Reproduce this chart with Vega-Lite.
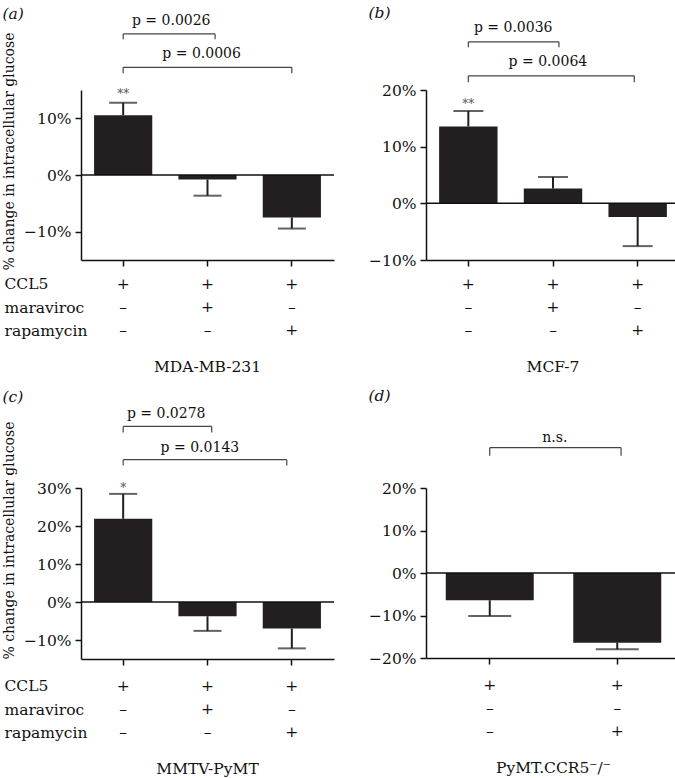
{
  "$schema": "https://vega.github.io/schema/vega-lite/v6.json",
  "padding": {"left": 2, "top": 6, "right": 0, "bottom": 0},
  "config": {
    "font": "DejaVu Serif",
    "view": {"stroke": null},
    "axis": {"labelFont": "DejaVu Serif", "titleFont": "DejaVu Serif", "domainColor": "#111", "tickColor": "#111", "labelColor": "#111", "titleColor": "#111", "labelFontSize": 15.5, "titleFontSize": 14, "titleFontWeight": "normal", "tickSize": 6, "domainWidth": 1.5, "tickWidth": 1.5, "grid": false, "labelPadding": 4},
    "title": {"font": "DejaVu Serif", "fontSize": 15.5, "fontWeight": "normal", "color": "#111"},
    "text": {"font": "DejaVu Serif"}
  },
  "datasets": {
    "bars": [
      {"panel": "a", "cond": "1", "value": 10.55, "err": 12.75, "sig": "**"},
      {"panel": "a", "cond": "2", "value": -0.8, "err": -3.65, "sig": ""},
      {"panel": "a", "cond": "3", "value": -7.5, "err": -9.45, "sig": ""},
      {"panel": "b", "cond": "1", "value": 13.55, "err": 16.3, "sig": "**"},
      {"panel": "b", "cond": "2", "value": 2.6, "err": 4.65, "sig": ""},
      {"panel": "b", "cond": "3", "value": -2.4, "err": -7.55, "sig": ""},
      {"panel": "c", "cond": "1", "value": 21.9, "err": 28.45, "sig": "*"},
      {"panel": "c", "cond": "2", "value": -3.75, "err": -7.6, "sig": ""},
      {"panel": "c", "cond": "3", "value": -7.0, "err": -12.2, "sig": ""},
      {"panel": "d", "cond": "1", "value": -6.4, "err": -10.1, "sig": ""},
      {"panel": "d", "cond": "2", "value": -16.4, "err": -17.95, "sig": ""}
    ],
    "brackets": [
      {"panel": "a", "from": 0, "to": 1.09, "level": 24.9, "low": 23.95, "mid": 0.57, "label": "p = 0.0026"},
      {"panel": "a", "from": 0, "to": 2, "level": 19.0, "low": 17.95, "mid": 0.93, "label": "p = 0.0006"},
      {"panel": "b", "from": 0, "to": 1.07, "level": 28.5, "low": 27.55, "mid": 0.53, "label": "p = 0.0036"},
      {"panel": "b", "from": 0, "to": 1.96, "level": 22.5, "low": 21.35, "mid": 0.94, "label": "p = 0.0064"},
      {"panel": "c", "from": 0, "to": 1.05, "level": 46.2, "low": 44.6, "mid": 0.51, "label": "p = 0.0278"},
      {"panel": "c", "from": 0, "to": 1.94, "level": 37.45, "low": 35.9, "mid": 0.91, "label": "p = 0.0143"},
      {"panel": "d", "from": 0, "to": 1.03, "level": 29.5, "low": 27.6, "mid": 0.51, "label": "n.s."}
    ],
    "table": [
      {"panel": "a", "cond": "1", "row": "CCL5", "sign": "+"},
      {"panel": "a", "cond": "1", "row": "maraviroc", "sign": "–"},
      {"panel": "a", "cond": "1", "row": "rapamycin", "sign": "–"},
      {"panel": "a", "cond": "2", "row": "CCL5", "sign": "+"},
      {"panel": "a", "cond": "2", "row": "maraviroc", "sign": "+"},
      {"panel": "a", "cond": "2", "row": "rapamycin", "sign": "–"},
      {"panel": "a", "cond": "3", "row": "CCL5", "sign": "+"},
      {"panel": "a", "cond": "3", "row": "maraviroc", "sign": "–"},
      {"panel": "a", "cond": "3", "row": "rapamycin", "sign": "+"},
      {"panel": "b", "cond": "1", "row": "CCL5", "sign": "+"},
      {"panel": "b", "cond": "1", "row": "maraviroc", "sign": "–"},
      {"panel": "b", "cond": "1", "row": "rapamycin", "sign": "–"},
      {"panel": "b", "cond": "2", "row": "CCL5", "sign": "+"},
      {"panel": "b", "cond": "2", "row": "maraviroc", "sign": "+"},
      {"panel": "b", "cond": "2", "row": "rapamycin", "sign": "–"},
      {"panel": "b", "cond": "3", "row": "CCL5", "sign": "+"},
      {"panel": "b", "cond": "3", "row": "maraviroc", "sign": "–"},
      {"panel": "b", "cond": "3", "row": "rapamycin", "sign": "+"},
      {"panel": "c", "cond": "1", "row": "CCL5", "sign": "+"},
      {"panel": "c", "cond": "1", "row": "maraviroc", "sign": "–"},
      {"panel": "c", "cond": "1", "row": "rapamycin", "sign": "–"},
      {"panel": "c", "cond": "2", "row": "CCL5", "sign": "+"},
      {"panel": "c", "cond": "2", "row": "maraviroc", "sign": "+"},
      {"panel": "c", "cond": "2", "row": "rapamycin", "sign": "–"},
      {"panel": "c", "cond": "3", "row": "CCL5", "sign": "+"},
      {"panel": "c", "cond": "3", "row": "maraviroc", "sign": "–"},
      {"panel": "c", "cond": "3", "row": "rapamycin", "sign": "+"},
      {"panel": "d", "cond": "1", "row": "CCL5", "sign": "+"},
      {"panel": "d", "cond": "1", "row": "maraviroc", "sign": "–"},
      {"panel": "d", "cond": "1", "row": "rapamycin", "sign": "–"},
      {"panel": "d", "cond": "2", "row": "CCL5", "sign": "+"},
      {"panel": "d", "cond": "2", "row": "maraviroc", "sign": "–"},
      {"panel": "d", "cond": "2", "row": "rapamycin", "sign": "+"}
    ]
  },
  "spacing": 13,
  "vconcat": [
    {
      "spacing": 33,
      "hconcat": [
        {
          "spacing": 9, "bounds": "flush",
          "vconcat": [
            {
              "width": 253, "height": 170,
              "title": {"text": "(a)", "anchor": "start", "frame": "bounds", "offset": -9, "fontStyle": "italic"},
              "resolve": {"scale": {"x": "independent"}},
              "layer": [
                {
                  "data": {"name": "bars"},
                  "transform": [{"filter": "datum.panel == 'a'"}],
                  "layer": [
                    {"mark": {"type": "bar", "color": "#231f20"},
                     "encoding": {
                       "x": {"field": "cond", "type": "nominal", "title": null, "scale": {"domain": ["1", "2", "3"], "paddingInner": 0.31, "paddingOuter": 0.155}, "axis": {"title": null, "labels": false}},
                       "y": {"field": "value", "type": "quantitative", "title": "% change in intracellular glucose", "scale": {"domain": [-15, 15], "nice": false, "zero": false},
                             "axis": {"title": "% change in intracellular glucose", "values": [-10, 0, 10], "labelExpr": "(datum.value < 0 ? '−' + abs(datum.value) : datum.value) + '%'", "titlePadding": 7, "titleY": 61, "titleAlign": "center"}}
                     }},
                    {"mark": {"type": "rule", "strokeWidth": 2, "color": "#231f20"},
                     "encoding": {"x": {"field": "cond", "type": "nominal", "title": null}, "y": {"field": "value", "type": "quantitative", "title": "% change in intracellular glucose"}, "y2": {"field": "err"}}},
                    {"mark": {"type": "tick", "size": 28, "thickness": 2, "color": "#231f20"},
                     "encoding": {"x": {"field": "cond", "type": "nominal", "title": null}, "y": {"field": "err", "type": "quantitative", "title": "% change in intracellular glucose"}}},
                    {"mark": {"type": "text", "dy": -9, "fontSize": 12, "color": "#555"},
                     "encoding": {"x": {"field": "cond", "type": "nominal", "title": null}, "y": {"field": "err", "type": "quantitative", "title": "% change in intracellular glucose"}, "text": {"field": "sig"}}},
                    {"data": {"values": [{}]}, "mark": {"type": "rule", "strokeWidth": 1.5, "color": "#111"},
                     "encoding": {"y": {"datum": 0, "type": "quantitative", "title": "% change in intracellular glucose"}}}
                  ]
                },
                {
                  "data": {"name": "brackets"},
                  "transform": [{"filter": "datum.panel == 'a'"}],
                  "layer": [
                    {"mark": {"type": "rule", "strokeWidth": 1.2, "color": "#444"},
                     "encoding": {"x": {"field": "from", "type": "quantitative", "scale": {"domain": [-0.5, 2.5], "nice": false, "zero": false}, "axis": null}, "x2": {"field": "to"}, "y": {"field": "level", "type": "quantitative", "title": "% change in intracellular glucose"}}},
                    {"mark": {"type": "rule", "strokeWidth": 1.2, "color": "#444"},
                     "encoding": {"x": {"field": "from", "type": "quantitative", "axis": null}, "y": {"field": "level", "type": "quantitative", "title": "% change in intracellular glucose"}, "y2": {"field": "low"}}},
                    {"mark": {"type": "rule", "strokeWidth": 1.2, "color": "#444"},
                     "encoding": {"x": {"field": "to", "type": "quantitative", "axis": null}, "y": {"field": "level", "type": "quantitative", "title": "% change in intracellular glucose"}, "y2": {"field": "low"}}},
                    {"mark": {"type": "text", "dy": -9, "fontSize": 14, "baseline": "alphabetic", "color": "#111"},
                     "encoding": {"x": {"field": "mid", "type": "quantitative", "axis": null}, "y": {"field": "level", "type": "quantitative", "title": "% change in intracellular glucose"}, "text": {"field": "label"}}}
                  ]
                }
              ]
            },
            {
              "width": 253, "height": 76,
              "data": {"name": "table"},
              "transform": [{"filter": "datum.panel == 'a'"}],
              "title": {"text": "MDA-MB-231", "orient": "bottom", "frame": "group", "anchor": "middle", "offset": 15},
              "mark": {"type": "text", "fontSize": 15.5, "color": "#111", "font": "DejaVu Serif"},
              "encoding": {
                "x": {"field": "cond", "type": "nominal", "scale": {"domain": ["1", "2", "3"]}, "axis": null},
                "y": {"field": "row", "type": "nominal", "scale": {"type": "point", "domain": ["CCL5", "maraviroc", "rapamycin"], "padding": 0.65},
                      "axis": {"title": null, "domain": false, "ticks": false, "tickSize": 0, "labelAlign": "left", "labelPadding": 77}},
                "text": {"field": "sign"}
              }
            }
          ]
        },
        {
          "spacing": 9, "bounds": "flush",
          "vconcat": [
            {
              "width": 254, "height": 170,
              "title": {"text": "(b)", "anchor": "start", "frame": "bounds", "offset": -1, "fontStyle": "italic"},
              "resolve": {"scale": {"x": "independent"}},
              "layer": [
                {
                  "data": {"name": "bars"},
                  "transform": [{"filter": "datum.panel == 'b'"}],
                  "layer": [
                    {"mark": {"type": "bar", "color": "#231f20"},
                     "encoding": {
                       "x": {"field": "cond", "type": "nominal", "title": null, "scale": {"domain": ["1", "2", "3"], "paddingInner": 0.31, "paddingOuter": 0.155}, "axis": {"title": null, "labels": false}},
                       "y": {"field": "value", "type": "quantitative", "title": null, "scale": {"domain": [-10, 20], "nice": false, "zero": false},
                             "axis": {"title": null, "values": [-10, 0, 10, 20], "labelExpr": "(datum.value < 0 ? '−' + abs(datum.value) : datum.value) + '%'"}}
                     }},
                    {"mark": {"type": "rule", "strokeWidth": 2, "color": "#231f20"},
                     "encoding": {"x": {"field": "cond", "type": "nominal", "title": null}, "y": {"field": "value", "type": "quantitative", "title": null}, "y2": {"field": "err"}}},
                    {"mark": {"type": "tick", "size": 30, "thickness": 2, "color": "#231f20"},
                     "encoding": {"x": {"field": "cond", "type": "nominal", "title": null}, "y": {"field": "err", "type": "quantitative", "title": null}}},
                    {"mark": {"type": "text", "dy": -7, "fontSize": 12, "color": "#555"},
                     "encoding": {"x": {"field": "cond", "type": "nominal", "title": null}, "y": {"field": "err", "type": "quantitative", "title": null}, "text": {"field": "sig"}}},
                    {"data": {"values": [{}]}, "mark": {"type": "rule", "strokeWidth": 1.5, "color": "#111"},
                     "encoding": {"y": {"datum": 0, "type": "quantitative", "title": null}}}
                  ]
                },
                {
                  "data": {"name": "brackets"},
                  "transform": [{"filter": "datum.panel == 'b'"}],
                  "layer": [
                    {"mark": {"type": "rule", "strokeWidth": 1.2, "color": "#444"},
                     "encoding": {"x": {"field": "from", "type": "quantitative", "scale": {"domain": [-0.5, 2.5], "nice": false, "zero": false}, "axis": null}, "x2": {"field": "to"}, "y": {"field": "level", "type": "quantitative", "title": null}}},
                    {"mark": {"type": "rule", "strokeWidth": 1.2, "color": "#444"},
                     "encoding": {"x": {"field": "from", "type": "quantitative", "axis": null}, "y": {"field": "level", "type": "quantitative", "title": null}, "y2": {"field": "low"}}},
                    {"mark": {"type": "rule", "strokeWidth": 1.2, "color": "#444"},
                     "encoding": {"x": {"field": "to", "type": "quantitative", "axis": null}, "y": {"field": "level", "type": "quantitative", "title": null}, "y2": {"field": "low"}}},
                    {"mark": {"type": "text", "dy": -10, "fontSize": 14, "baseline": "alphabetic", "color": "#111"},
                     "encoding": {"x": {"field": "mid", "type": "quantitative", "axis": null}, "y": {"field": "level", "type": "quantitative", "title": null}, "text": {"field": "label"}}}
                  ]
                }
              ]
            },
            {
              "width": 254, "height": 76,
              "data": {"name": "table"},
              "transform": [{"filter": "datum.panel == 'b'"}],
              "title": {"text": "MCF-7", "orient": "bottom", "frame": "group", "anchor": "middle", "offset": 15},
              "mark": {"type": "text", "fontSize": 15.5, "color": "#111", "font": "DejaVu Serif"},
              "encoding": {
                "x": {"field": "cond", "type": "nominal", "scale": {"domain": ["1", "2", "3"]}, "axis": null},
                "y": {"field": "row", "type": "nominal", "scale": {"type": "point", "domain": ["CCL5", "maraviroc", "rapamycin"], "padding": 0.65}, "axis": null},
                "text": {"field": "sign"}
              }
            }
          ]
        }
      ]
    },
    {
      "spacing": 33,
      "hconcat": [
        {
          "spacing": 12, "bounds": "flush",
          "vconcat": [
            {
              "width": 253, "height": 171,
              "title": {"text": "(c)", "anchor": "start", "frame": "bounds", "offset": 2, "fontStyle": "italic"},
              "resolve": {"scale": {"x": "independent"}},
              "layer": [
                {
                  "data": {"name": "bars"},
                  "transform": [{"filter": "datum.panel == 'c'"}],
                  "layer": [
                    {"mark": {"type": "bar", "color": "#231f20"},
                     "encoding": {
                       "x": {"field": "cond", "type": "nominal", "title": null, "scale": {"domain": ["1", "2", "3"], "paddingInner": 0.31, "paddingOuter": 0.155}, "axis": {"title": null, "labels": false}},
                       "y": {"field": "value", "type": "quantitative", "title": "% change in intracellular glucose", "scale": {"domain": [-15, 30], "nice": false, "zero": false},
                             "axis": {"title": "% change in intracellular glucose", "values": [-10, 0, 10, 20, 30], "labelExpr": "(datum.value < 0 ? '−' + abs(datum.value) : datum.value) + '%'", "titlePadding": 7, "titleY": 52, "titleAlign": "center"}}
                     }},
                    {"mark": {"type": "rule", "strokeWidth": 2, "color": "#231f20"},
                     "encoding": {"x": {"field": "cond", "type": "nominal", "title": null}, "y": {"field": "value", "type": "quantitative", "title": "% change in intracellular glucose"}, "y2": {"field": "err"}}},
                    {"mark": {"type": "tick", "size": 28, "thickness": 2, "color": "#231f20"},
                     "encoding": {"x": {"field": "cond", "type": "nominal", "title": null}, "y": {"field": "err", "type": "quantitative", "title": "% change in intracellular glucose"}}},
                    {"mark": {"type": "text", "dy": -6, "fontSize": 12, "color": "#555"},
                     "encoding": {"x": {"field": "cond", "type": "nominal", "title": null}, "y": {"field": "err", "type": "quantitative", "title": "% change in intracellular glucose"}, "text": {"field": "sig"}}},
                    {"data": {"values": [{}]}, "mark": {"type": "rule", "strokeWidth": 1.5, "color": "#111"},
                     "encoding": {"y": {"datum": 0, "type": "quantitative", "title": "% change in intracellular glucose"}}}
                  ]
                },
                {
                  "data": {"name": "brackets"},
                  "transform": [{"filter": "datum.panel == 'c'"}],
                  "layer": [
                    {"mark": {"type": "rule", "strokeWidth": 1.2, "color": "#444"},
                     "encoding": {"x": {"field": "from", "type": "quantitative", "scale": {"domain": [-0.5, 2.5], "nice": false, "zero": false}, "axis": null}, "x2": {"field": "to"}, "y": {"field": "level", "type": "quantitative", "title": "% change in intracellular glucose"}}},
                    {"mark": {"type": "rule", "strokeWidth": 1.2, "color": "#444"},
                     "encoding": {"x": {"field": "from", "type": "quantitative", "axis": null}, "y": {"field": "level", "type": "quantitative", "title": "% change in intracellular glucose"}, "y2": {"field": "low"}}},
                    {"mark": {"type": "rule", "strokeWidth": 1.2, "color": "#444"},
                     "encoding": {"x": {"field": "to", "type": "quantitative", "axis": null}, "y": {"field": "level", "type": "quantitative", "title": "% change in intracellular glucose"}, "y2": {"field": "low"}}},
                    {"mark": {"type": "text", "dy": -8, "fontSize": 14, "baseline": "alphabetic", "color": "#111"},
                     "encoding": {"x": {"field": "mid", "type": "quantitative", "axis": null}, "y": {"field": "level", "type": "quantitative", "title": "% change in intracellular glucose"}, "text": {"field": "label"}}}
                  ]
                }
              ]
            },
            {
              "width": 253, "height": 76,
              "data": {"name": "table"},
              "transform": [{"filter": "datum.panel == 'c'"}],
              "title": {"text": "MMTV-PyMT", "orient": "bottom", "frame": "group", "anchor": "middle", "offset": 15},
              "mark": {"type": "text", "fontSize": 15.5, "color": "#111", "font": "DejaVu Serif"},
              "encoding": {
                "x": {"field": "cond", "type": "nominal", "scale": {"domain": ["1", "2", "3"]}, "axis": null},
                "y": {"field": "row", "type": "nominal", "scale": {"type": "point", "domain": ["CCL5", "maraviroc", "rapamycin"], "padding": 0.65},
                      "axis": {"title": null, "domain": false, "ticks": false, "tickSize": 0, "labelAlign": "left", "labelPadding": 77}},
                "text": {"field": "sign"}
              }
            }
          ]
        },
        {
          "spacing": 12, "bounds": "flush",
          "vconcat": [
            {
              "width": 255, "height": 170,
              "title": {"text": "(d)", "anchor": "start", "frame": "bounds", "offset": 26, "fontStyle": "italic"},
              "resolve": {"scale": {"x": "independent"}},
              "layer": [
                {
                  "data": {"name": "bars"},
                  "transform": [{"filter": "datum.panel == 'd'"}],
                  "layer": [
                    {"mark": {"type": "bar", "color": "#231f20"},
                     "encoding": {
                       "x": {"field": "cond", "type": "nominal", "title": null, "scale": {"domain": ["1", "2"], "paddingInner": 0.31, "paddingOuter": 0.155}, "axis": {"title": null, "labels": false}},
                       "y": {"field": "value", "type": "quantitative", "title": null, "scale": {"domain": [-20, 20], "nice": false, "zero": false},
                             "axis": {"title": null, "values": [-20, -10, 0, 10, 20], "labelExpr": "(datum.value < 0 ? '−' + abs(datum.value) : datum.value) + '%'"}}
                     }},
                    {"mark": {"type": "rule", "strokeWidth": 2, "color": "#231f20"},
                     "encoding": {"x": {"field": "cond", "type": "nominal", "title": null}, "y": {"field": "value", "type": "quantitative", "title": null}, "y2": {"field": "err"}}},
                    {"mark": {"type": "tick", "size": 43, "thickness": 2, "color": "#231f20"},
                     "encoding": {"x": {"field": "cond", "type": "nominal", "title": null}, "y": {"field": "err", "type": "quantitative", "title": null}}},
                    {"data": {"values": [{}]}, "mark": {"type": "rule", "strokeWidth": 1.5, "color": "#111"},
                     "encoding": {"y": {"datum": 0, "type": "quantitative", "title": null}}}
                  ]
                },
                {
                  "data": {"name": "brackets"},
                  "transform": [{"filter": "datum.panel == 'd'"}],
                  "layer": [
                    {"mark": {"type": "rule", "strokeWidth": 1.2, "color": "#444"},
                     "encoding": {"x": {"field": "from", "type": "quantitative", "scale": {"domain": [-0.5, 1.5], "nice": false, "zero": false}, "axis": null}, "x2": {"field": "to"}, "y": {"field": "level", "type": "quantitative", "title": null}}},
                    {"mark": {"type": "rule", "strokeWidth": 1.2, "color": "#444"},
                     "encoding": {"x": {"field": "from", "type": "quantitative", "axis": null}, "y": {"field": "level", "type": "quantitative", "title": null}, "y2": {"field": "low"}}},
                    {"mark": {"type": "rule", "strokeWidth": 1.2, "color": "#444"},
                     "encoding": {"x": {"field": "to", "type": "quantitative", "axis": null}, "y": {"field": "level", "type": "quantitative", "title": null}, "y2": {"field": "low"}}},
                    {"mark": {"type": "text", "dy": -6, "fontSize": 14, "baseline": "alphabetic", "color": "#111"},
                     "encoding": {"x": {"field": "mid", "type": "quantitative", "axis": null}, "y": {"field": "level", "type": "quantitative", "title": null}, "text": {"field": "label"}}}
                  ]
                }
              ]
            },
            {
              "width": 255, "height": 76,
              "data": {"name": "table"},
              "transform": [{"filter": "datum.panel == 'd'"}],
              "title": {"text": "PyMT.CCR5⁻/⁻", "orient": "bottom", "frame": "group", "anchor": "middle", "offset": 15},
              "mark": {"type": "text", "fontSize": 15.5, "color": "#111", "font": "DejaVu Serif"},
              "encoding": {
                "x": {"field": "cond", "type": "nominal", "scale": {"domain": ["1", "2"]}, "axis": null},
                "y": {"field": "row", "type": "nominal", "scale": {"type": "point", "domain": ["CCL5", "maraviroc", "rapamycin"], "padding": 0.65}, "axis": null},
                "text": {"field": "sign"}
              }
            }
          ]
        }
      ]
    }
  ]
}
